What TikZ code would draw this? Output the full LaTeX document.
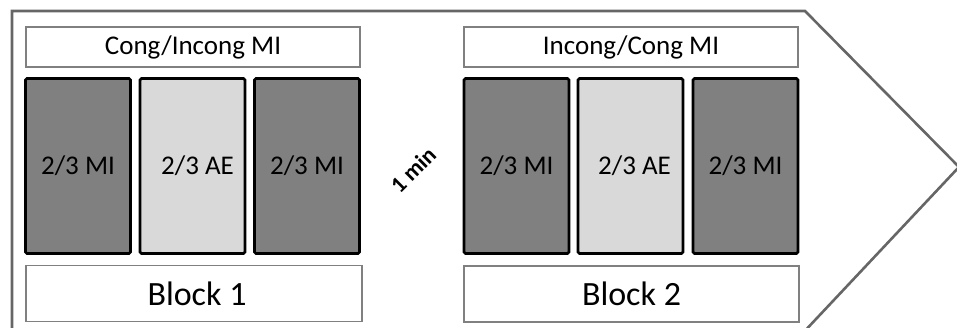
\documentclass[tikz,border=0pt]{standalone}
\usepackage{fontspec}
\setmainfont{Carlito}
\begin{document}
\begin{tikzpicture}[x=1pt,y=-1pt,
  frame/.style={draw=black!60,line width=2.6pt,line join=miter},
  labelbox/.style={draw=black!50,line width=1.1pt,fill=white,minimum height=40pt,inner sep=0pt},
  blockbox/.style={draw=black!50,line width=1.1pt,fill=white,minimum height=56pt,inner sep=0pt},
  darkbox/.style={draw=black,line width=2.6pt,rounded corners=1.5pt,fill=black!50,minimum width=105pt,minimum height=175pt,inner sep=0pt},
  lightbox/.style={draw=black,line width=2.6pt,rounded corners=1.5pt,fill=black!15,minimum width=105pt,minimum height=175pt,inner sep=0pt},
  hdr/.style={font=\fontsize{27}{30}\selectfont},
  cell/.style={font=\fontsize{27}{30}\selectfont},
  blk/.style={font=\fontsize{34}{38}\selectfont},
]
\useasboundingbox (0,0) rectangle (957,328);
\clip (0,0) rectangle (957,328);
\draw[frame] (12,345) -- (12,11) -- (805,11) -- (959,167) -- (801,335);

% Block 1
\node[labelbox,minimum width=334pt] (h1) at (193,47) {};
\node[hdr] (h1t) at (h1.center) {Cong/Incong MI};
\node[darkbox] (a1) at (78,166) {};
\node[lightbox] (b1) at (192.5,166) {};
\node[darkbox] (c1) at (307,166) {};
\node[cell] (a1t) at (a1.center) {2/3 MI};
\node[cell] (b1t) at ([xshift=5pt]b1.center) {2/3 AE};
\node[cell] (c1t) at (c1.center) {2/3 MI};
\node[blockbox,minimum width=336pt] (k1) at (194,293.5) {};
\node[blk] (k1t) at ([xshift=3pt]k1.center) {Block 1};

% 1 min
\node[font=\bfseries\fontsize{23}{26}\selectfont,rotate=45,inner sep=0pt] (gap) at (413,170) {1 min};

% Block 2
\node[labelbox,minimum width=334pt] (h2) at (631,47) {};
\node[hdr] (h2t) at (h2.center) {Incong/Cong MI};
\node[darkbox] (a2) at (516.5,166) {};
\node[lightbox] (b2) at (630.5,166) {};
\node[darkbox] (c2) at (745.5,166) {};
\node[cell] (a2t) at (a2.center) {2/3 MI};
\node[cell] (b2t) at ([xshift=4pt]b2.center) {2/3 AE};
\node[cell] (c2t) at (c2.center) {2/3 MI};
\node[blockbox,minimum width=335pt] (k2) at (631.5,294) {};
\node[blk] (k2t) at (k2.center) {Block 2};
\end{tikzpicture}
\end{document}
